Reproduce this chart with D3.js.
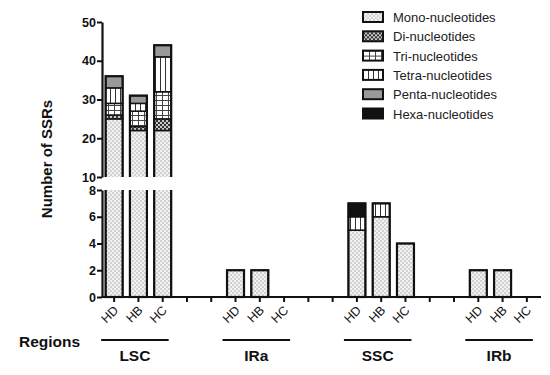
<!DOCTYPE html>
<html>
<head>
<meta charset="utf-8">
<script src="https://cdn.jsdelivr.net/npm/d3@7"></script>
<style>
  body { margin: 0; background: #fff; }
  svg { font-family: "Liberation Sans", Arial, sans-serif; }
</style>
</head>
<body>
<script>
// chart data
var regions = ["LSC", "IRa", "SSC", "IRb"];
var samples = ["HD", "HB", "HC"];
var types = ["Mono-nucleotides", "Di-nucleotides", "Tri-nucleotides",
             "Tetra-nucleotides", "Penta-nucleotides", "Hexa-nucleotides"];
// one value per region x sample (LSC HD, HB, HC, IRa HD, ...)
var mono  = [25, 22, 22, 2, 2, 0, 5, 6, 4, 2, 2, 0];
var di    = [1, 1, 3, 0, 0, 0, 0, 0, 0, 0, 0, 0];
var tri   = [3, 4, 7, 0, 0, 0, 0, 0, 0, 0, 0, 0];
var tetra = [4, 2, 9, 0, 0, 0, 1, 1, 0, 0, 0, 0];
var penta = [3, 2, 3, 0, 0, 0, 0, 0, 0, 0, 0, 0];
var hexa  = [0, 0, 0, 0, 0, 0, 1, 0, 0, 0, 0, 0];
var topTicks = [10, 20, 30, 40, 50];
var bottomTicks = [0, 2, 4, 6, 8];

var width = 550,
    height = 375;

var svg = d3.select("body").append("svg")
    .attr("width", width)
    .attr("height", height);

// patterns
var defs = svg.append("defs");
function pat(id, w, h) {
  return defs.append("pattern").attr("id", id).attr("patternUnits", "userSpaceOnUse")
    .attr("width", w).attr("height", h);
}
var p = pat("p-mono", 4, 4);
p.append("rect").attr("width", 4).attr("height", 4).attr("fill", "#f2f2f2");
p.append("rect").attr("width", 2).attr("height", 2).attr("fill", "#d2d2d2");
p.append("rect").attr("x", 2).attr("y", 2).attr("width", 2).attr("height", 2).attr("fill", "#d2d2d2");
p = pat("p-di", 4, 4);
p.append("rect").attr("width", 4).attr("height", 4).attr("fill", "#c8c8c8");
p.append("rect").attr("width", 2).attr("height", 2).attr("fill", "#333");
p.append("rect").attr("x", 2).attr("y", 2).attr("width", 2).attr("height", 2).attr("fill", "#333");
p = pat("p-tri", 6, 5);
p.append("rect").attr("width", 6).attr("height", 5).attr("fill", "#fff");
p.append("rect").attr("width", 6).attr("height", 1).attr("fill", "#444");
p.append("rect").attr("width", 1).attr("height", 5).attr("fill", "#444");
p = pat("p-tetra", 5, 5);
p.append("rect").attr("width", 5).attr("height", 5).attr("fill", "#fff");
p.append("rect").attr("width", 1).attr("height", 5).attr("fill", "#333");

var fills = ["url(#p-mono)", "url(#p-di)", "url(#p-tri)", "url(#p-tetra)", "#999", "#111"];

// scales
var slots = d3.range(18);
var x = d3.scaleBand().domain(slots).range([102, 539]).paddingInner(0.3).paddingOuter(0.15);
var yTop = d3.scaleLinear().domain([10, 50]).range([177, 22]);
var yBot = d3.scaleLinear().domain([0, 8]).range([297, 190]);

function slotOf(i) { return Math.floor(i / 3) * 5 + (i % 3); }

var rows = mono.map(function(v, i) {
  return { slot: slotOf(i), mono: v, di: di[i], tri: tri[i], tetra: tetra[i], penta: penta[i], hexa: hexa[i] };
});
var keys = ["mono", "di", "tri", "tetra", "penta", "hexa"];
var stacked = d3.stack().keys(keys)(rows);

defs.append("clipPath").attr("id", "clip-top").append("rect")
  .attr("x", 0).attr("y", 0).attr("width", width).attr("height", 177);
defs.append("clipPath").attr("id", "clip-bot").append("rect")
  .attr("x", 0).attr("y", 190).attr("width", width).attr("height", 110);

function drawPanel(y, clip) {
  var g = svg.append("g").attr("clip-path", "url(#" + clip + ")");
  stacked.forEach(function(layer, k) {
    g.selectAll(null).data(layer.filter(function(d) { return d[1] > d[0]; }))
      .enter().append("rect")
      .attr("x", function(d) { return x(d.data.slot); })
      .attr("width", x.bandwidth())
      .attr("y", function(d) { return y(d[1]); })
      .attr("height", function(d) { return y(d[0]) - y(d[1]); })
      .attr("fill", fills[k])
      .attr("stroke", "#111")
      .attr("stroke-width", 1.5);
  });
  // bar outlines
  g.selectAll(null).data(rows.filter(function(d) { return d3.sum(keys, function(k) { return d[k]; }) > 0; }))
    .enter().append("rect")
    .attr("x", function(d) { return x(d.slot); })
    .attr("width", x.bandwidth())
    .attr("y", function(d) { return y(d3.sum(keys, function(k) { return d[k]; })); })
    .attr("height", function(d) { return y(0) - y(d3.sum(keys, function(k) { return d[k]; })); })
    .attr("fill", "none")
    .attr("stroke", "#111")
    .attr("stroke-width", 2.2);
}
drawPanel(yTop, "clip-top");
drawPanel(yBot, "clip-bot");

// y axes
function styleAxis(g) {
  g.selectAll(".domain").attr("stroke", "#111").attr("stroke-width", 2.2);
  g.selectAll(".tick line").attr("stroke", "#111").attr("stroke-width", 2);
  g.selectAll("text").attr("font-size", 12.5).attr("font-weight", "bold").attr("fill", "#111")
    .attr("font-family", "Liberation Sans, Arial, sans-serif");
}
svg.append("g").attr("transform", "translate(102,0)")
  .call(d3.axisLeft(yTop).tickValues(topTicks).tickSize(5).tickSizeOuter(0).tickPadding(1))
  .call(styleAxis);
svg.append("g").attr("transform", "translate(102,0)")
  .call(d3.axisLeft(yBot).tickValues(bottomTicks).tickSize(5).tickSizeOuter(0).tickPadding(1))
  .call(styleAxis);

// x axis
var slotLabel = {};
rows.forEach(function(d, i) { slotLabel[d.slot] = samples[i % 3]; });
var xAxis = svg.append("g").attr("transform", "translate(0,297)")
  .call(d3.axisBottom(x).tickSize(5).tickSizeOuter(0)
    .tickFormat(function(d) { return slotLabel[d] || ""; }))
  .call(styleAxis);
xAxis.select(".domain").attr("d", "M102,0H541");
xAxis.selectAll("text")
  .attr("font-weight", "normal").attr("font-size", 12.5)
  .attr("text-anchor", "end")
  .attr("dy", null).attr("y", 0)
  .attr("transform", "translate(5,14) rotate(-45)");

// region labels
regions.forEach(function(r, i) {
  var x0 = x(i * 5) + x.bandwidth() / 2 - 13,
      x1 = x(i * 5 + 2) + x.bandwidth() / 2 + 6;
  svg.append("line").attr("x1", x0).attr("x2", x1).attr("y1", 340).attr("y2", 340)
    .attr("stroke", "#111").attr("stroke-width", 2.2);
  svg.append("text").attr("x", (x0 + x1) / 2).attr("y", 361)
    .attr("text-anchor", "middle").attr("font-size", 15.5).attr("font-weight", "bold")
    .attr("fill", "#111").text(r);
});
svg.append("text").attr("x", 19).attr("y", 347)
  .attr("font-size", 15.5).attr("font-weight", "bold").attr("fill", "#111").text("Regions");

// y title
svg.append("text").attr("transform", "translate(52,159) rotate(-90)")
  .attr("text-anchor", "middle").attr("font-size", 15).attr("font-weight", "bold")
  .attr("fill", "#111").text("Number of SSRs");

// legend
var legend = svg.append("g").selectAll("g").data(types).enter().append("g")
  .attr("transform", function(d, i) { return "translate(363," + (17 + i * 19.3) + ")"; });
legend.append("rect").attr("x", 0).attr("y", -5).attr("width", 20).attr("height", 10)
  .attr("fill", function(d, i) { return fills[i]; })
  .attr("stroke", "#111").attr("stroke-width", 2);
legend.append("text").attr("x", 30).attr("y", 5)
  .attr("font-size", 13).attr("fill", "#222").text(function(d) { return d; });
</script>
</body>
</html>
